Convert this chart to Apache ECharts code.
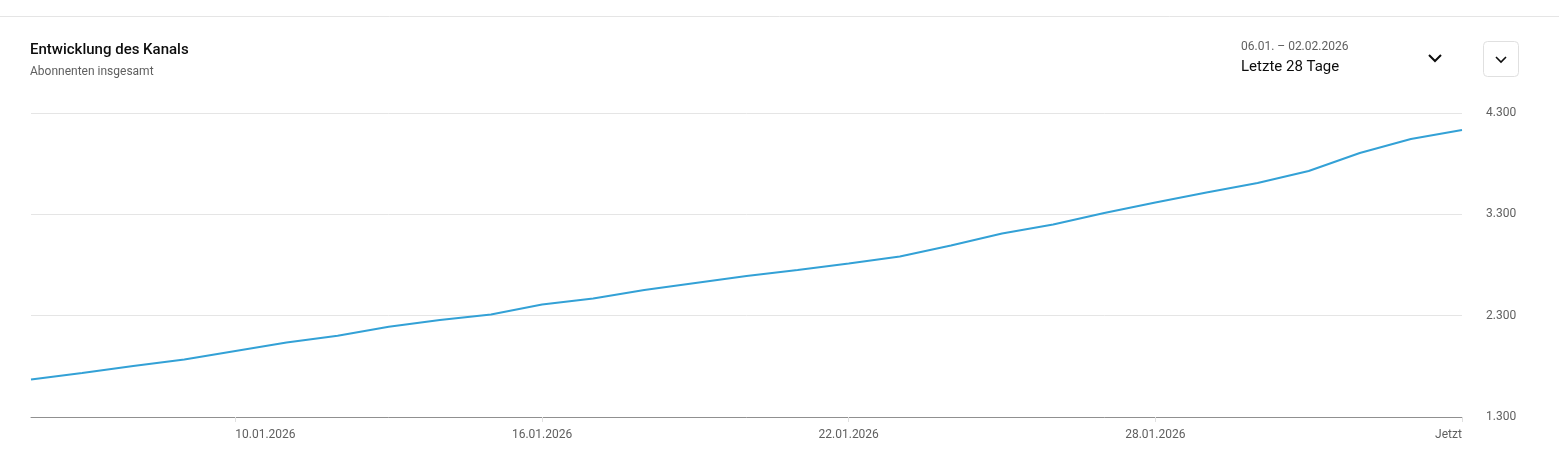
<!DOCTYPE html>
<html>
<head>
<meta charset="utf-8">
<script src="https://cdn.jsdelivr.net/npm/echarts@6/dist/echarts.min.js"></script>
<style>
html,body{margin:0;padding:0;background:#fff;}
#c{width:1559px;height:466px;}
</style>
</head>
<body>
<div id="c"></div>
<script>
var categories = ['06.01.2026','07.01.2026','08.01.2026','09.01.2026','10.01.2026','11.01.2026','12.01.2026','13.01.2026','14.01.2026','15.01.2026','16.01.2026','17.01.2026','18.01.2026','19.01.2026','20.01.2026','21.01.2026','22.01.2026','23.01.2026','24.01.2026','25.01.2026','26.01.2026','27.01.2026','28.01.2026','29.01.2026','30.01.2026','31.01.2026','01.02.2026','02.02.2026','Jetzt'];
var subscribers = [1670,1734,1803,1867,1951,2035,2102,2191,2257,2311,2410,2469,2553,2622,2691,2751,2815,2884,2992,3111,3200,3313,3417,3515,3609,3728,3905,4043,4132];
var yTicks = [1300,2300,3300,4300];
var shownLabels = [4,10,16,22,28];

var FONT = 'Roboto';
function fmt(v){ return String(v).replace(/\B(?=(\d{3})+(?!\d))/g,'.'); }

var chart = echarts.init(document.getElementById('c'), null, {renderer:'canvas'});
chart.setOption({
  animation:false,
  backgroundColor:'#fff',
  grid:{left:31,right:97,top:113,bottom:49,containLabel:false},
  xAxis:{
    type:'category',
    data:categories,
    boundaryGap:false,
    axisLine:{lineStyle:{color:'#909090',width:1}},
    axisTick:{show:true,length:5,lineStyle:{color:'#e0e0e0'},interval:function(i){return shownLabels.indexOf(i)>=0;}},
    axisLabel:{
      interval:function(i){return shownLabels.indexOf(i)>=0;},
      margin:12,
      hideOverlap:false,
      color:'#606060',fontFamily:FONT,fontSize:12,
      formatter:function(v,i){
        if(i===shownLabels[0]) return '{f|'+v+'}';
        if(i===shownLabels[shownLabels.length-1]) return '{l|'+v+'}';
        return '{m|'+v+'}';
      },
      rich:{
        f:{padding:[0,0,0,60],color:'#606060',fontFamily:FONT,fontSize:12},
        l:{padding:[0,27,0,0],color:'#606060',fontFamily:FONT,fontSize:12},
        m:{color:'#606060',fontFamily:FONT,fontSize:12}
      }
    },
    splitLine:{show:false}
  },
  yAxis:{
    type:'value',
    position:'right',
    min:1300,max:4300,interval:1000,
    axisLine:{show:false},
    axisTick:{show:false,customValues:yTicks},
    axisLabel:{customValues:yTicks,formatter:fmt,margin:24,padding:[3,0,0,0],color:'#606060',fontFamily:FONT,fontSize:12,align:'left'},
    splitLine:{show:true,lineStyle:{color:'#e5e5e5',width:1}}
  },
  series:[{
    type:'line',
    data:subscribers,
    showSymbol:false,
    symbol:'none',
    lineStyle:{color:'#33a1d6',width:2},
    itemStyle:{color:'#33a1d6'}
  }],
  graphic:[
    {type:'line',shape:{x1:0,y1:16.5,x2:1559,y2:16.5},style:{stroke:'#e5e5e5',lineWidth:1}},
    {type:'text',x:30,y:50,style:{text:'Entwicklung des Kanals',font:'500 15px Roboto',fill:'#0d0d0d',textVerticalAlign:'middle'}},
    {type:'text',x:30,y:71.5,style:{text:'Abonnenten insgesamt',font:'12px Roboto',fill:'#606060',textVerticalAlign:'middle'}},
    {type:'text',x:1241,y:46.5,style:{text:'06.01. – 02.02.2026',font:'12px Roboto',fill:'#606060',textVerticalAlign:'middle'}},
    {type:'text',x:1241,y:67,style:{text:'Letzte 28 Tage',font:'15px Roboto',fill:'#0d0d0d',textVerticalAlign:'middle'}},
    {type:'polyline',shape:{points:[[1429,55],[1435,61],[1441,55]]},style:{stroke:'#0d0d0d',lineWidth:2,fill:null}},
    {type:'rect',shape:{x:1483.5,y:41.5,width:35,height:35,r:4},style:{stroke:'#e0e0e0',lineWidth:1,fill:'#fff'}},
    {type:'polyline',shape:{points:[[1496,57],[1501,62],[1506,57]]},style:{stroke:'#0d0d0d',lineWidth:1.6,fill:null}}
  ]
});
</script>
</body>
</html>
